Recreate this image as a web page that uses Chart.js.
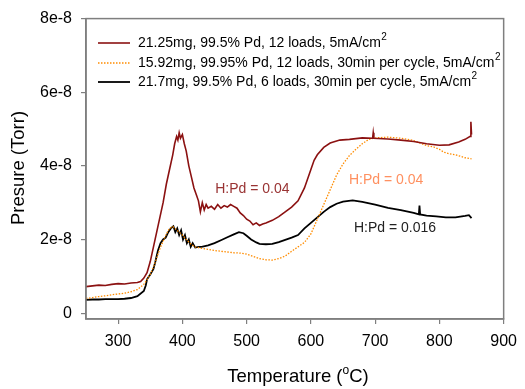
<!DOCTYPE html>
<html>
<head>
<meta charset="utf-8">
<script src="https://cdn.jsdelivr.net/npm/chart.js@4"></script>
<style>
  html, body { margin: 0; padding: 0; background: #fff; }
  #wrap { width: 525px; height: 389px; }
</style>
</head>
<body>
<div id="wrap"><canvas id="chart"></canvas></div>
<script>
// pressure values are in units of 1e-8 Torr
const tempRed = [250, 260, 270, 280, 290, 300, 310, 320, 330, 335, 340, 345, 350, 355, 360, 365, 370, 375, 380, 385, 388, 391, 393, 395, 397, 400, 403, 406, 410, 414, 418, 422, 425, 428, 431, 434, 437, 440, 445, 450, 455, 460, 465, 470, 475, 480, 485, 490, 495, 500, 505, 510, 515, 520, 525, 530, 540, 550, 560, 570, 580, 590, 600, 605, 610, 620, 630, 645, 660, 680, 696, 697, 698, 720, 740, 760, 780, 800, 815, 830, 840, 848, 849, 850];
const presRed = [0.72, 0.74, 0.76, 0.75, 0.78, 0.80, 0.79, 0.82, 0.83, 0.86, 0.95, 1.1, 1.4, 1.8, 2.2, 2.6, 3.0, 3.5, 3.9, 4.3, 4.6, 4.8, 4.7, 4.9, 4.75, 4.85, 4.6, 4.4, 4.0, 3.7, 3.4, 3.2, 3.05, 2.75, 3.0, 2.8, 2.95, 2.85, 2.9, 2.82, 2.95, 2.85, 2.92, 2.88, 2.95, 2.9, 2.85, 2.72, 2.65, 2.55, 2.5, 2.4, 2.45, 2.38, 2.42, 2.45, 2.52, 2.62, 2.75, 2.88, 3.05, 3.4, 3.9, 4.15, 4.3, 4.5, 4.62, 4.7, 4.72, 4.76, 4.75, 4.9, 4.75, 4.73, 4.7, 4.66, 4.6, 4.56, 4.57, 4.65, 4.72, 4.8, 5.2, 4.85];

const tempOrange = [250, 260, 270, 280, 290, 300, 310, 320, 330, 340, 350, 355, 360, 365, 370, 375, 380, 385, 390, 395, 400, 405, 410, 415, 420, 430, 440, 450, 460, 470, 480, 490, 500, 510, 520, 530, 540, 550, 560, 570, 580, 590, 600, 610, 620, 630, 640, 650, 660, 670, 680, 690, 700, 720, 740, 757, 770, 780, 790, 800, 807, 815, 827, 840, 850];
const presOrange = [0.40, 0.42, 0.45, 0.47, 0.50, 0.52, 0.54, 0.58, 0.64, 0.78, 1.05, 1.25, 1.5, 1.75, 1.95, 2.15, 2.3, 2.35, 2.28, 2.2, 2.12, 2.02, 1.93, 1.85, 1.8, 1.76, 1.73, 1.7, 1.68, 1.66, 1.64, 1.63, 1.6, 1.54, 1.48, 1.45, 1.44, 1.48, 1.55, 1.68, 1.8, 1.92, 2.15, 2.55, 2.95, 3.35, 3.75, 4.05, 4.28, 4.45, 4.6, 4.72, 4.76, 4.78, 4.75, 4.7, 4.62, 4.55, 4.52, 4.45, 4.37, 4.33, 4.29, 4.22, 4.19];

const tempBlack = [250, 260, 270, 280, 290, 300, 310, 320, 330, 340, 343, 345, 350, 355, 358, 362, 366, 370, 374, 378, 382, 386, 389, 392, 395, 398, 401, 404, 407, 410, 413, 416, 420, 425, 430, 440, 450, 460, 470, 480, 488, 495, 500, 507, 515, 520, 530, 540, 550, 560, 570, 580, 590, 600, 610, 620, 630, 640, 650, 665, 680, 700, 720, 740, 760, 768, 769, 770, 780, 795, 810, 825, 840, 846, 850];
const presBlack = [0.36, 0.37, 0.37, 0.38, 0.38, 0.38, 0.39, 0.41, 0.46, 0.6, 0.75, 0.92, 1.05, 1.2, 1.4, 1.7, 1.9, 2.0, 2.05, 2.2, 2.3, 2.36, 2.2, 2.3, 2.12, 2.25, 2.0, 2.12, 1.9, 2.0, 1.8, 1.9, 1.78, 1.8, 1.8, 1.84, 1.9, 1.98, 2.06, 2.14, 2.2, 2.17, 2.1, 2.0, 1.92, 1.88, 1.87, 1.88, 1.93, 1.99, 2.05, 2.12, 2.3, 2.45, 2.6, 2.75, 2.88, 2.97, 3.03, 3.06, 3.02, 2.95, 2.86, 2.8, 2.72, 2.68, 2.92, 2.68, 2.65, 2.63, 2.6, 2.6, 2.64, 2.66, 2.58];

const xTicks = [300, 400, 500, 600, 700, 800, 900];
const yTicks = [0, 2, 4, 6, 8];

const seriesNames = [
    '21.25mg, 99.5% Pd, 12 loads, 5mA/cm',
    '15.92mg, 99.95% Pd, 12 loads, 30min per cycle, 5mA/cm',
    '21.7mg, 99.5% Pd, 6 loads, 30min per cycle, 5mA/cm'
];
const seriesColors = ['#8b1111', '#ff8c00', '#000000'];

// labels placed on the plot: [text, temperature, pressure, colour]
const notes = [
    ['H:Pd = 0.04', 509, 3.38, '#993333'],
    ['H:Pd = 0.04', 717, 3.62, '#ff9060'],
    ['H:Pd = 0.016', 731, 2.31, '#222222']
];

const toPoints = (xs, ys) => xs.map((x, i) => ({ x: x, y: ys[i] }));

const FONT = 'Arial, "Liberation Sans", sans-serif';
const AXIS_GRAY = '#7f7f7f';

// frame, legend, notes and axis titles
const decorations = {
    id: 'decorations',
    afterDraw(chart) {
        const { ctx, chartArea: a, scales } = chart;
        ctx.save();

        // plot frame
        ctx.strokeStyle = AXIS_GRAY;
        ctx.lineWidth = 1.5;
        ctx.strokeRect(a.left, a.top, a.right - a.left, a.bottom - a.top);

        // legend
        ctx.font = '14px ' + FONT;
        ctx.textBaseline = 'middle';
        ctx.textAlign = 'left';
        const rows = [43, 63, 82];
        chart.data.datasets.forEach((ds, i) => {
            const y = rows[i];
            ctx.beginPath();
            ctx.strokeStyle = ds.borderColor;
            ctx.lineWidth = ds.borderWidth;
            ctx.setLineDash(ds.borderDash || []);
            ctx.moveTo(98, y);
            ctx.lineTo(130, y);
            ctx.stroke();
            ctx.setLineDash([]);
            ctx.fillStyle = '#000';
            ctx.font = '14px ' + FONT;
            ctx.fillText(seriesNames[i], 138, y);
            const w = ctx.measureText(seriesNames[i]).width;
            ctx.font = '10px ' + FONT;
            ctx.fillText('2', 138 + w + 0.5, y - 6);
        });

        // notes on the curves
        ctx.font = '14px ' + FONT;
        ctx.textAlign = 'center';
        notes.forEach(([text, t, p, color]) => {
            ctx.fillStyle = color;
            ctx.fillText(text, scales.x.getPixelForValue(t), scales.y.getPixelForValue(p));
        });

        // axis titles
        ctx.fillStyle = '#000';
        ctx.font = '18.5px ' + FONT;
        ctx.save();
        ctx.translate(19, 168);
        ctx.rotate(-Math.PI / 2);
        ctx.textAlign = 'center';
        ctx.fillText('Presure (Torr)', 0, 0);
        ctx.restore();

        const p1 = 'Temperature (', p2 = 'o', p3 = 'C)';
        ctx.font = '18.5px ' + FONT;
        const w1 = ctx.measureText(p1).width;
        const w3 = ctx.measureText(p3).width;
        ctx.font = '12px ' + FONT;
        const w2 = ctx.measureText(p2).width;
        let x = 298 - (w1 + w2 + w3) / 2;
        ctx.textAlign = 'left';
        ctx.font = '18.5px ' + FONT;
        ctx.fillText(p1, x, 377);
        ctx.font = '12px ' + FONT;
        ctx.fillText(p2, x + w1, 371);
        ctx.font = '18.5px ' + FONT;
        ctx.fillText(p3, x + w1 + w2, 377);

        ctx.restore();
    }
};

new Chart(document.getElementById('chart'), {
    type: 'line',
    data: {
        datasets: [
            {
                data: toPoints(tempRed, presRed),
                borderColor: seriesColors[0],
                borderWidth: 1.6
            },
            {
                data: toPoints(tempOrange, presOrange),
                borderColor: seriesColors[1],
                borderWidth: 1.3,
                borderDash: [1.5, 1.5]
            },
            {
                data: toPoints(tempBlack, presBlack),
                borderColor: seriesColors[2],
                borderWidth: 1.8
            }
        ]
    },
    options: {
        responsive: true,
        maintainAspectRatio: false,
        animation: false,
        events: [],
        elements: { point: { radius: 0 }, line: { tension: 0 } },
        layout: { padding: { top: 15, right: 15, left: 0, bottom: 0 } },
        plugins: {
            legend: { display: false },
            tooltip: { enabled: false }
        },
        scales: {
            x: {
                type: 'linear',
                min: 250,
                max: 900,
                afterBuildTicks: axis => { axis.ticks = xTicks.map(v => ({ value: v })); },
                afterFit: axis => { axis.height = 70; },
                grid: { drawOnChartArea: false, color: AXIS_GRAY, tickLength: 5, lineWidth: 1.2 },
                border: { color: AXIS_GRAY, width: 1.5 },
                ticks: { color: '#000', font: { family: FONT, size: 16 }, padding: 8, maxRotation: 0 }
            },
            y: {
                min: -0.16,
                max: 8,
                afterBuildTicks: axis => { axis.ticks = yTicks.map(v => ({ value: v })); },
                afterFit: axis => { axis.width = 86; },
                grid: { drawOnChartArea: false, color: AXIS_GRAY, tickLength: 5, lineWidth: 1.2 },
                border: { color: AXIS_GRAY, width: 1.5 },
                ticks: {
                    color: '#000',
                    font: { family: FONT, size: 16 },
                    padding: 9,
                    callback: v => v === 0 ? '0' : v + 'e-8'
                }
            }
        }
    },
    plugins: [decorations]
});
</script>
</body>
</html>
